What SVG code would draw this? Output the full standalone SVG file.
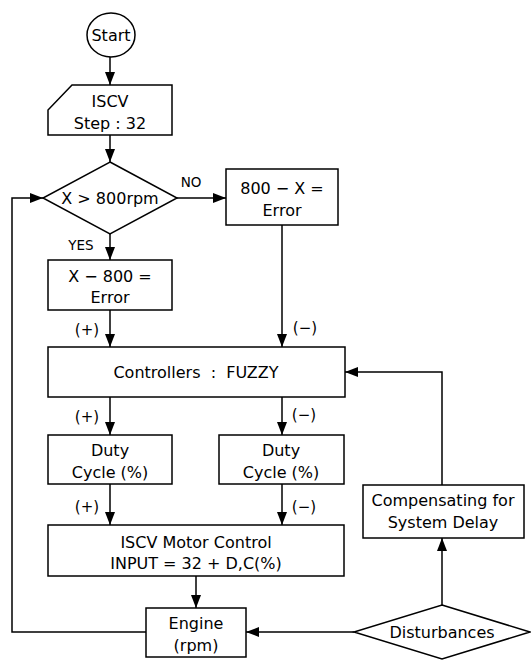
<svg xmlns="http://www.w3.org/2000/svg" width="531" height="660" viewBox="0 0 531 660">
<style>
  .shape { fill: #fff; stroke: #000; stroke-width: 1.5; }
  .conn { fill: none; stroke: #000; stroke-width: 1.5; }
  text { font-family: "DejaVu Sans", "Liberation Sans", sans-serif; font-size: 16px; fill: #000; text-anchor: middle; dominant-baseline: central; }
  .lbl { font-size: 15px; }
  .yn { font-size: 13.5px; }
</style>
<defs>
  <marker id="arr" markerUnits="userSpaceOnUse" markerWidth="14" markerHeight="10" refX="13" refY="5" orient="auto">
    <path d="M0,0 L13,5 L0,10 Z" fill="#000"/>
  </marker>
</defs>
<rect width="531" height="660" fill="#fff"/>

<g id="connectors">
  <line class="conn" x1="110" y1="57" x2="110" y2="85" marker-end="url(#arr)"/>
  <line class="conn" x1="110" y1="135" x2="110" y2="162" marker-end="url(#arr)"/>
  <line class="conn" x1="177" y1="198" x2="226" y2="198" marker-end="url(#arr)"/>
  <line class="conn" x1="110" y1="234" x2="110" y2="260" marker-end="url(#arr)"/>
  <line class="conn" x1="282" y1="225" x2="282" y2="347" marker-end="url(#arr)"/>
  <line class="conn" x1="110" y1="310" x2="110" y2="347" marker-end="url(#arr)"/>
  <line class="conn" x1="110" y1="397" x2="110" y2="435" marker-end="url(#arr)"/>
  <line class="conn" x1="282" y1="397" x2="282" y2="435" marker-end="url(#arr)"/>
  <line class="conn" x1="110" y1="484" x2="110" y2="525" marker-end="url(#arr)"/>
  <line class="conn" x1="282" y1="484" x2="282" y2="525" marker-end="url(#arr)"/>
  <line class="conn" x1="196" y1="576" x2="196" y2="608" marker-end="url(#arr)"/>
  <polyline class="conn" points="146,632 12,632 12,198 43,198" marker-end="url(#arr)"/>
  <line class="conn" x1="354" y1="632" x2="246" y2="632" marker-end="url(#arr)"/>
  <line class="conn" x1="442" y1="605" x2="442" y2="538" marker-end="url(#arr)"/>
  <polyline class="conn" points="442,485 442,372 345,372" marker-end="url(#arr)"/>
  <text x="191" y="182" class="yn">NO</text>
  <text x="81" y="245" class="yn">YES</text>
  <text x="87" y="330" class="lbl">(+)</text>
  <text x="305" y="328" class="lbl">(−)</text>
  <text x="87" y="417" class="lbl">(+)</text>
  <text x="304" y="415" class="lbl">(−)</text>
  <text x="87" y="507" class="lbl">(+)</text>
  <text x="304" y="507" class="lbl">(−)</text>
</g>

<g id="start">
  <ellipse class="shape" cx="111" cy="35" rx="24" ry="22"/>
  <text x="111" y="35">Start</text>
</g>

<g id="iscv-step">
  <path class="shape" d="M72,85 L172,85 L172,135 L48,135 L48,110 Z"/>
  <text x="110" y="101">ISCV</text>
  <text x="110" y="123">Step : 32</text>
</g>

<g id="decision">
  <polygon class="shape" points="110,162 177,198 110,234 43,198"/>
  <text x="110" y="198">X &gt; 800rpm</text>
</g>

<g id="error-no">
  <rect class="shape" x="226" y="169" width="112" height="56"/>
  <text x="282" y="188">800 − X =</text>
  <text x="282" y="210">Error</text>
</g>

<g id="error-yes">
  <rect class="shape" x="48" y="260" width="124" height="50"/>
  <text x="110" y="276">X − 800 =</text>
  <text x="110" y="297">Error</text>
</g>

<g id="controllers">
  <rect class="shape" x="48" y="347" width="297" height="50"/>
  <text x="196" y="372" xml:space="preserve">Controllers  :  FUZZY</text>
</g>

<g id="duty-plus">
  <rect class="shape" x="48" y="435" width="124" height="49"/>
  <text x="110" y="450">Duty</text>
  <text x="110" y="472">Cycle (%)</text>
</g>

<g id="duty-minus">
  <rect class="shape" x="219" y="435" width="125" height="49"/>
  <text x="281" y="450">Duty</text>
  <text x="281" y="472">Cycle (%)</text>
</g>

<g id="motor-control">
  <rect class="shape" x="48" y="525" width="296" height="51"/>
  <text x="196" y="542">ISCV Motor Control</text>
  <text x="196" y="563">INPUT = 32 + D,C(%)</text>
</g>

<g id="engine">
  <rect class="shape" x="146" y="608" width="100" height="49"/>
  <text x="196" y="623">Engine</text>
  <text x="196" y="645">(rpm)</text>
</g>

<g id="compensating">
  <rect class="shape" x="363" y="485" width="161" height="53"/>
  <text x="443" y="500">Compensating for</text>
  <text x="443" y="522">System Delay</text>
</g>

<g id="disturbances">
  <polygon class="shape" points="442,605 530,632 442,659 354,632"/>
  <text x="442" y="632">Disturbances</text>
</g>
</svg>
